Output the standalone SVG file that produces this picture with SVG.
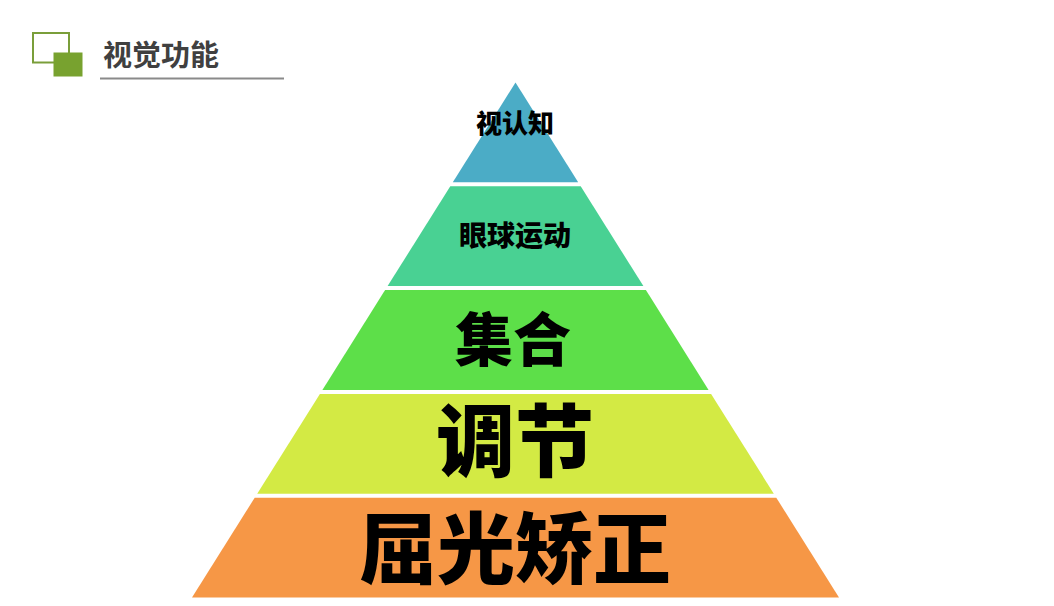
<svg xmlns="http://www.w3.org/2000/svg" width="1054" height="606" viewBox="0 0 1054 606">
<style>
.lbl{font-family:"Noto Sans CJK SC","Liberation Sans",sans-serif;font-weight:900;fill:#000;text-anchor:middle}
.title{font-family:"Noto Sans CJK SC","Liberation Sans",sans-serif;font-weight:bold;fill:#404040}
</style>
<rect width="1054" height="606" fill="#ffffff"/>
<g id="header">
<rect x="33" y="33" width="36" height="29.5" fill="none" stroke="#7a9e3a" stroke-width="2"/>
<rect x="53.5" y="52.5" width="29" height="24" fill="#78a22f"/>
<text class="title" x="103" y="65.5" font-size="29">视觉功能</text>
<line x1="100" y1="78.5" x2="284" y2="78.5" stroke="#8a8a8a" stroke-width="2"/>
</g>
<g id="layer-visual-cognition">
<polygon points="515.5,82.5 578.2,182.3 452.8,182.3" fill="#4bacc6"/>
<text class="lbl" x="515" y="132.5" font-size="26">视认知</text>
</g>
<g id="layer-eye-movement">
<polygon points="450.3,186.3 580.7,186.3 643.4,286.1 387.6,286.1" fill="#49d193"/>
<text class="lbl" x="515" y="245.5" font-size="28">眼球运动</text>
</g>
<g id="layer-vergence">
<polygon points="385.1,290.1 645.9,290.1 708.6,389.9 322.4,389.9" fill="#5ddf49"/>
<text class="lbl" x="513" y="361" font-size="58">集合</text>
</g>
<g id="layer-accommodation">
<polygon points="319.9,393.9 711.1,393.9 773.8,493.7 257.2,493.7" fill="#d3ea44"/>
<text class="lbl" x="515" y="470.5" font-size="79">调节</text>
</g>
<g id="layer-refraction">
<polygon points="254.7,497.7 776.3,497.7 839,597.5 192,597.5" fill="#f69746"/>
<text class="lbl" x="515" y="578" font-size="78">屈光矫正</text>
</g>
</svg>
